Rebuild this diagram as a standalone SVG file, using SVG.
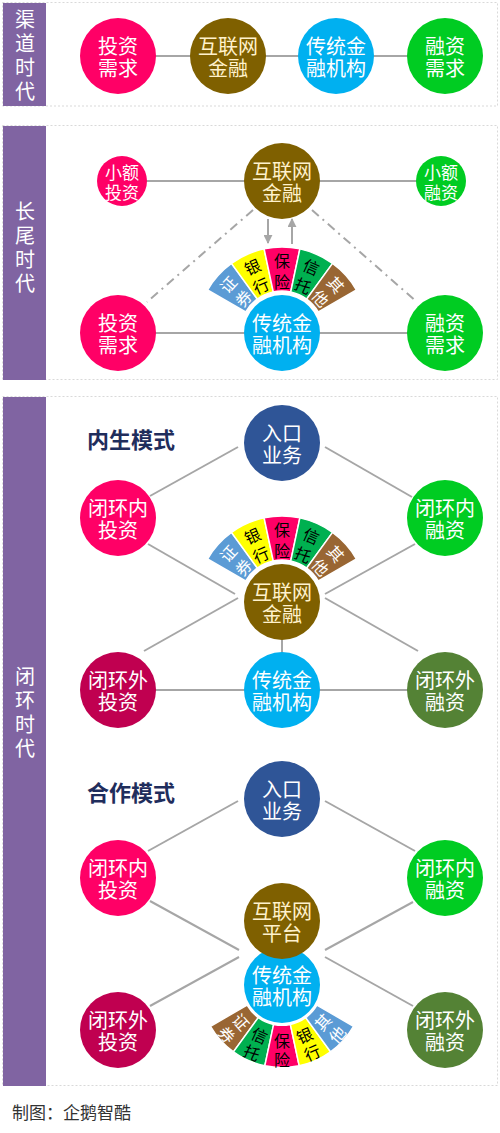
<svg xmlns="http://www.w3.org/2000/svg" width="500" height="1133" viewBox="0 0 500 1133">
<style>
.frame{fill:#fff;stroke:#D9D9D9;stroke-width:1;stroke-dasharray:2 2}
.band{fill:#8064A2}
.bt{font-family:"Noto Sans CJK SC",sans-serif;font-size:20px;fill:#fff;text-anchor:middle;dominant-baseline:central}
.t{font-family:"Noto Sans CJK SC",sans-serif;font-size:20px;fill:#fff;text-anchor:middle;dominant-baseline:central}
.tb{fill:#FFF2CC}
.ts{font-size:17px}
.st{font-family:"Noto Sans CJK SC",sans-serif;font-size:16px;text-anchor:middle;dominant-baseline:central}
.w{fill:#fff}
.k{fill:#000}
.seg{stroke:#fff;stroke-width:1.5}
.ln{stroke:#A6A6A6;stroke-width:2;fill:none}
.dd{stroke:#A6A6A6;stroke-width:2;fill:none;stroke-dasharray:9 5 2 5}
.title{font-family:"Noto Sans CJK SC",sans-serif;font-size:22px;font-weight:bold;fill:#1F2D5C;dominant-baseline:central}
.foot{font-family:"Noto Sans CJK SC",sans-serif;font-size:17px;fill:#333;dominant-baseline:central}
.pink{fill:#FF0066}.brown{fill:#7F6000}.cyan{fill:#00B0F0}.green{fill:#00CC22}
.navy{fill:#2F5597}.crim{fill:#C00050}.olive{fill:#548235}
</style>
<defs>
<marker id="ah" viewBox="0 0 10 10" refX="9" refY="5" markerWidth="4.5" markerHeight="4.5" orient="auto"><path d="M0,0 L10,5 L0,10 z" fill="#A6A6A6"/></marker>
<path id="s1" class="seg" d="M-74.48 -43 A86 86 0 0 1 -50.55 -69.57 L-24.69 -33.98 A42 42 0 0 0 -36.37 -21 Z"/>
<path id="s2" class="seg" d="M-50.55 -69.57 A86 86 0 0 1 -17.88 -84.12 L-8.73 -41.08 A42 42 0 0 0 -24.69 -33.98 Z"/>
<path id="s3" class="seg" d="M-17.88 -84.12 A86 86 0 0 1 17.88 -84.12 L8.73 -41.08 A42 42 0 0 0 -8.73 -41.08 Z"/>
<path id="s4" class="seg" d="M17.88 -84.12 A86 86 0 0 1 50.55 -69.57 L24.69 -33.98 A42 42 0 0 0 8.73 -41.08 Z"/>
<path id="s5" class="seg" d="M50.55 -69.57 A86 86 0 0 1 74.48 -43 L36.37 -21 A42 42 0 0 0 24.69 -33.98 Z"/>
</defs>

<g id="frames">
<rect class="frame" x="2.5" y="2.5" width="495" height="103.5"/>
<rect class="band" x="3" y="3" width="43" height="103"/>
<rect class="frame" x="2.5" y="125.5" width="495" height="254"/>
<rect class="band" x="3" y="126" width="43" height="254"/>
<rect class="frame" x="2.5" y="396.5" width="495" height="689"/>
<rect class="band" x="3" y="397" width="43" height="689"/>
</g>

<g id="band-labels">
<text class="bt" x="25" y="18">渠<tspan x="25" dy="24">道</tspan><tspan x="25" dy="24">时</tspan><tspan x="25" dy="24">代</tspan></text>
<text class="bt" x="25" y="210">长<tspan x="25" dy="24">尾</tspan><tspan x="25" dy="24">时</tspan><tspan x="25" dy="24">代</tspan></text>
<text class="bt" x="25" y="675">闭<tspan x="25" dy="24">环</tspan><tspan x="25" dy="24">时</tspan><tspan x="25" dy="24">代</tspan></text>
</g>

<g id="connectors">
<line class="ln" x1="118" y1="56" x2="445" y2="56"/>
<line class="ln" x1="122" y1="181" x2="441" y2="181"/>
<line class="ln" x1="118" y1="333" x2="445" y2="333"/>
<line class="dd" x1="253" y1="210" x2="147" y2="302"/>
<line class="dd" x1="312" y1="210" x2="417" y2="302"/>
<line class="ln" x1="268" y1="219" x2="268" y2="243" marker-end="url(#ah)"/>
<line class="ln" x1="292" y1="244" x2="292" y2="219" marker-end="url(#ah)"/>

<line class="ln" x1="238" y1="447" x2="150" y2="496"/>
<line class="ln" x1="325" y1="447" x2="412" y2="497"/>
<line class="ln" x1="148" y1="544" x2="235" y2="594"/>
<line class="ln" x1="144" y1="651" x2="238" y2="598"/>
<line class="ln" x1="325" y1="594" x2="415" y2="544"/>
<line class="ln" x1="325" y1="598" x2="418" y2="651"/>
<line class="ln" x1="282" y1="638" x2="282" y2="654"/>
<line class="ln" x1="118" y1="690" x2="445" y2="690"/>

<line class="ln" x1="238" y1="801" x2="148" y2="851"/>
<line class="ln" x1="325" y1="801" x2="415" y2="851"/>
<line class="ln" x1="150" y1="901" x2="239" y2="950"/>
<line class="ln" x1="150" y1="1006" x2="239" y2="957"/>
<line class="ln" x1="325" y1="950" x2="413" y2="902"/>
<line class="ln" x1="325" y1="957" x2="413" y2="1006"/>
</g>

<g id="s1-invest"><circle class="pink" cx="118" cy="56" r="38"/><text class="t" x="118" y="45">投资<tspan x="118" dy="22">需求</tspan></text></g>
<g id="s1-internet"><circle class="brown" cx="228" cy="56" r="38"/><text class="t tb" x="228" y="45">互联网<tspan x="228" dy="22">金融</tspan></text></g>
<g id="s1-trad"><circle class="cyan" cx="336" cy="56" r="38"/><text class="t" x="336" y="45">传统金<tspan x="336" dy="22">融机构</tspan></text></g>
<g id="s1-finance"><circle class="green" cx="445" cy="56" r="38"/><text class="t" x="445" y="45">融资<tspan x="445" dy="22">需求</tspan></text></g>

<g id="s2-small-invest"><circle class="pink" cx="122" cy="181" r="25"/><text class="t ts" x="122" y="171.5">小额<tspan x="122" dy="19">投资</tspan></text></g>
<g id="s2-internet"><circle class="brown" cx="282" cy="181" r="38"/><text class="t tb" x="282" y="170">互联网<tspan x="282" dy="22">金融</tspan></text></g>
<g id="s2-small-finance"><circle class="green" cx="441" cy="181" r="25"/><text class="t ts" x="441" y="171.5">小额<tspan x="441" dy="19">融资</tspan></text></g>
<g id="s2-fan" transform="translate(282,333)">
<use href="#s1" fill="#5B9BD5"/><use href="#s2" fill="#FFFF00"/><use href="#s3" fill="#FF0066"/><use href="#s4" fill="#00B050"/><use href="#s5" fill="#996633"/>
<text class="st w" transform="translate(-54.25,-48.84) rotate(-48)">证<tspan x="0" dy="20.5">券</tspan></text>
<text class="st k" transform="translate(-29.69,-66.69) rotate(-24)">银<tspan x="0" dy="20.5">行</tspan></text>
<text class="st k" transform="translate(0,-73)">保<tspan x="0" dy="20.5">险</tspan></text>
<text class="st k" transform="translate(29.69,-66.69) rotate(24)">信<tspan x="0" dy="20.5">托</tspan></text>
<text class="st w" transform="translate(54.25,-48.84) rotate(48)">其<tspan x="0" dy="20.5">他</tspan></text>
</g>
<g id="s2-invest"><circle class="pink" cx="118" cy="333" r="38"/><text class="t" x="118" y="322">投资<tspan x="118" dy="22">需求</tspan></text></g>
<g id="s2-trad"><circle class="cyan" cx="282" cy="333" r="38"/><text class="t" x="282" y="322">传统金<tspan x="282" dy="22">融机构</tspan></text></g>
<g id="s2-finance"><circle class="green" cx="445" cy="333" r="38"/><text class="t" x="445" y="322">融资<tspan x="445" dy="22">需求</tspan></text></g>

<text id="title-endogenous" class="title" x="87" y="438">内生模式</text>
<g id="s3a-entry"><circle class="navy" cx="282" cy="443" r="38"/><text class="t" x="282" y="432">入口<tspan x="282" dy="22">业务</tspan></text></g>
<g id="s3a-in-invest"><circle class="pink" cx="118" cy="518" r="38"/><text class="t" x="118" y="507">闭环内<tspan x="118" dy="22">投资</tspan></text></g>
<g id="s3a-in-finance"><circle class="green" cx="445" cy="518" r="38"/><text class="t" x="445" y="507">闭环内<tspan x="445" dy="22">融资</tspan></text></g>
<g id="s3a-fan" transform="translate(282,602)">
<use href="#s1" fill="#5B9BD5"/><use href="#s2" fill="#FFFF00"/><use href="#s3" fill="#FF0066"/><use href="#s4" fill="#00B050"/><use href="#s5" fill="#996633"/>
<text class="st w" transform="translate(-54.25,-48.84) rotate(-48)">证<tspan x="0" dy="20.5">券</tspan></text>
<text class="st k" transform="translate(-29.69,-66.69) rotate(-24)">银<tspan x="0" dy="20.5">行</tspan></text>
<text class="st k" transform="translate(0,-73)">保<tspan x="0" dy="20.5">险</tspan></text>
<text class="st k" transform="translate(29.69,-66.69) rotate(24)">信<tspan x="0" dy="20.5">托</tspan></text>
<text class="st w" transform="translate(54.25,-48.84) rotate(48)">其<tspan x="0" dy="20.5">他</tspan></text>
</g>
<g id="s3a-internet"><circle class="brown" cx="282" cy="602" r="38"/><text class="t tb" x="282" y="591">互联网<tspan x="282" dy="22">金融</tspan></text></g>
<g id="s3a-out-invest"><circle class="crim" cx="118" cy="690" r="38"/><text class="t" x="118" y="679">闭环外<tspan x="118" dy="22">投资</tspan></text></g>
<g id="s3a-trad"><circle class="cyan" cx="282" cy="690" r="38"/><text class="t" x="282" y="679">传统金<tspan x="282" dy="22">融机构</tspan></text></g>
<g id="s3a-out-finance"><circle class="olive" cx="445" cy="690" r="38"/><text class="t" x="445" y="679">闭环外<tspan x="445" dy="22">融资</tspan></text></g>

<text id="title-coop" class="title" x="87" y="791">合作模式</text>
<g id="s3b-entry"><circle class="navy" cx="282" cy="799" r="38"/><text class="t" x="282" y="788">入口<tspan x="282" dy="22">业务</tspan></text></g>
<g id="s3b-in-invest"><circle class="pink" cx="118" cy="878" r="38"/><text class="t" x="118" y="867">闭环内<tspan x="118" dy="22">投资</tspan></text></g>
<g id="s3b-in-finance"><circle class="green" cx="445" cy="878" r="38"/><text class="t" x="445" y="867">闭环内<tspan x="445" dy="22">融资</tspan></text></g>
<g id="s3b-fan" transform="translate(282,985)">
<g transform="scale(0.96,-0.96)">
<use href="#s1" fill="#996633"/><use href="#s2" fill="#00B050"/><use href="#s3" fill="#FF0066"/><use href="#s4" fill="#FFFF00"/><use href="#s5" fill="#5B9BD5"/>
</g>
<text class="st w" transform="translate(-40.5,36.5) rotate(48)">证<tspan x="0" dy="19">券</tspan></text>
<text class="st k" transform="translate(-22.2,49.8) rotate(24)">信<tspan x="0" dy="19">托</tspan></text>
<text class="st k" transform="translate(0,54.5)">保<tspan x="0" dy="19">险</tspan></text>
<text class="st k" transform="translate(22.2,49.8) rotate(-24)">银<tspan x="0" dy="19">行</tspan></text>
<text class="st w" transform="translate(40.5,36.5) rotate(-48)">其<tspan x="0" dy="19">他</tspan></text>
</g>
<g id="s3b-trad"><circle class="cyan" cx="282" cy="985" r="38"/><text class="t" x="282" y="974">传统金<tspan x="282" dy="22">融机构</tspan></text></g>
<g id="s3b-platform"><circle class="brown" cx="282" cy="921" r="38"/><text class="t tb" x="282" y="910">互联网<tspan x="282" dy="22">平台</tspan></text></g>
<g id="s3b-out-invest"><circle class="crim" cx="118" cy="1030" r="38"/><text class="t" x="118" y="1019">闭环外<tspan x="118" dy="22">投资</tspan></text></g>
<g id="s3b-out-finance"><circle class="olive" cx="445" cy="1030" r="38"/><text class="t" x="445" y="1019">闭环外<tspan x="445" dy="22">融资</tspan></text></g>

<text id="footer" class="foot" x="12" y="1111">制图：企鹅智酷</text>
</svg>
